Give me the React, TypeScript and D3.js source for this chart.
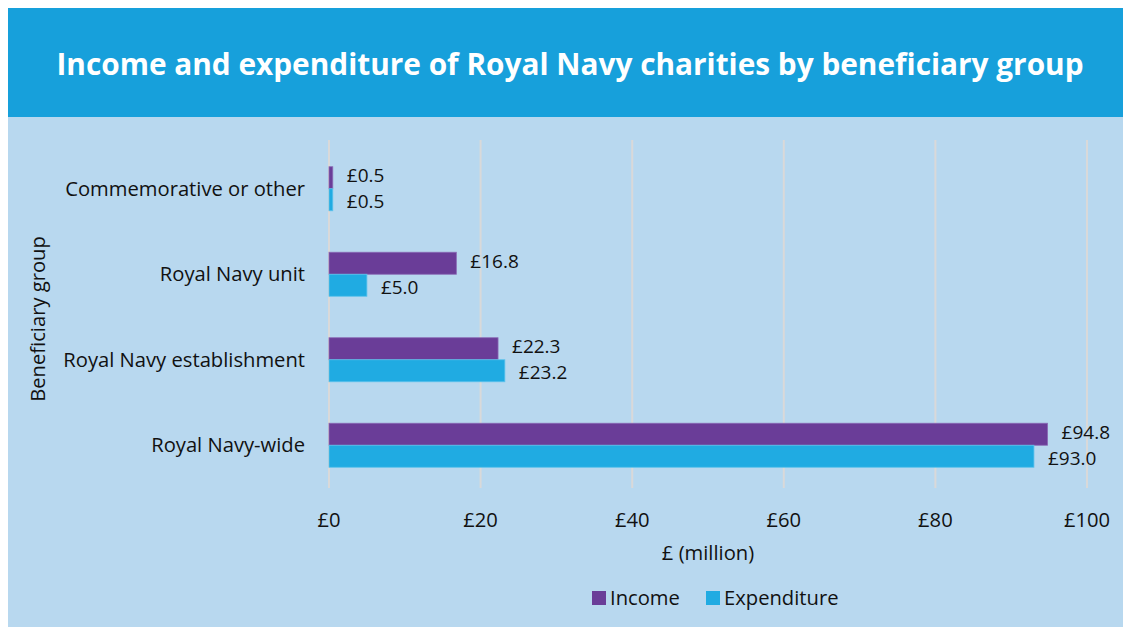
import { useMemo } from 'react';
import * as d3 from 'd3';

// Data
const categories = [
  'Commemorative or other',
  'Royal Navy unit',
  'Royal Navy establishment',
  'Royal Navy-wide',
];
const incomeValues = [0.5, 16.8, 22.3, 94.8];
const expenditureValues = [0.5, 5.0, 23.2, 93.0];
const seriesNames = ['Income', 'Expenditure'];
const xTicks = [0, 20, 40, 60, 80, 100];

const COLORS = {
  income: '#6a3d98',
  incomeStroke: '#8a6ab5',
  expenditure: '#20abe2',
  expenditureStroke: '#5cc2ec',
  header: '#17a0db',
  panel: '#b8d8ef',
  grid: '#d9d9d9',
  text: '#111111',
};

const FONT = "'Open Sans', 'Noto Sans', sans-serif";
const FS = 20.2;
const VALUE_FS = 19;

export default function App() {
  const width = 1123;
  const height = 627;
  const margins = { left: 329, right: 1087, top: 146, bottom: 488 };

  const xScale = useMemo(
    () => d3.scaleLinear().domain([0, 100]).range([margins.left, margins.right]),
    [],
  );
  const yScale = useMemo(
    () => d3
      .scaleBand<string>()
      .domain(categories)
      .range([margins.top, margins.bottom])
      .paddingInner(0.485)
      .paddingOuter(0.2425),
    [],
  );
  const bw = yScale.bandwidth();
  const half = bw / 2;

  const rows = categories.map((c, i) => ({
    name: c,
    income: incomeValues[i],
    expenditure: expenditureValues[i],
  }));

  return (
    <svg
      width={width}
      height={height}
      style={{ position: 'absolute', left: 0, top: 0, fontFamily: FONT }}
    >
      <rect x={0} y={0} width={width} height={height} fill="#ffffff" />
      {/* panel background */}
      <rect x={8} y={117} width={width - 8} height={height - 117} fill={COLORS.panel} />
      {/* header band */}
      <rect x={8} y={8} width={width - 8} height={109} fill={COLORS.header} />
      <text
        x={570}
        y={75}
        textAnchor="middle"
        fill="#ffffff"
        fontSize={29.8}
        fontWeight={700}
        fontFamily="'Open Sans', 'Noto Sans', sans-serif"
      >
        Income and expenditure of Royal Navy charities by beneficiary group
      </text>

      {/* gridlines */}
      {xTicks.map((t) => (
        <line
          key={`g${t}`}
          x1={xScale(t)}
          x2={xScale(t)}
          y1={140}
          y2={margins.bottom}
          stroke={COLORS.grid}
          strokeWidth={2}
        />
      ))}

      {/* bars */}
      {rows.map((d) => {
        const y0 = yScale(d.name) ?? 0;
        return (
          <g key={d.name}>
            <rect
              x={xScale(0)}
              y={y0}
              width={xScale(d.income) - xScale(0)}
              height={half}
              fill={COLORS.income}
              stroke={COLORS.incomeStroke}
              strokeWidth={0.8}
            />
            <rect
              x={xScale(0)}
              y={y0 + half}
              width={xScale(d.expenditure) - xScale(0)}
              height={half}
              fill={COLORS.expenditure}
              stroke={COLORS.expenditureStroke}
              strokeWidth={0.8}
            />
            <text
              x={xScale(d.income) + 14}
              y={y0 + half / 2 - 2}
              dy="0.35em"
              fontSize={VALUE_FS}
              fill={COLORS.text}
            >
              {`£${d.income.toFixed(1)}`}
            </text>
            <text
              x={xScale(d.expenditure) + 14}
              y={y0 + half + half / 2 + 2}
              dy="0.35em"
              fontSize={VALUE_FS}
              fill={COLORS.text}
            >
              {`£${d.expenditure.toFixed(1)}`}
            </text>
            <text
              x={305}
              y={y0 + half}
              dy="0.35em"
              textAnchor="end"
              fontSize={FS}
              fill={COLORS.text}
            >
              {d.name}
            </text>
          </g>
        );
      })}

      {/* x tick labels */}
      {xTicks.map((t) => (
        <text
          key={`t${t}`}
          x={xScale(t)}
          y={520}
          dy="0.35em"
          textAnchor="middle"
          fontSize={FS}
          fill={COLORS.text}
        >
          {`£${t}`}
        </text>
      ))}

      {/* axis titles */}
      <text x={xScale(50)} y={553} dy="0.35em" textAnchor="middle" fontSize={FS} fill={COLORS.text}>
        £ (million)
      </text>
      <text
        transform={`translate(38, 319) rotate(-90)`}
        dy="0.35em"
        textAnchor="middle"
        fontSize={FS}
        fill={COLORS.text}
      >
        Beneficiary group
      </text>

      {/* legend */}
      {seriesNames.map((s, i) => {
        const lx = i === 0 ? 592 : 706;
        return (
          <g key={s}>
            <rect
              x={lx}
              y={591}
              width={14}
              height={14}
              fill={i === 0 ? COLORS.income : COLORS.expenditure}
            />
            <text x={lx + 18} y={598} dy="0.35em" fontSize={FS} fill={COLORS.text}>
              {s}
            </text>
          </g>
        );
      })}
    </svg>
  );
}
